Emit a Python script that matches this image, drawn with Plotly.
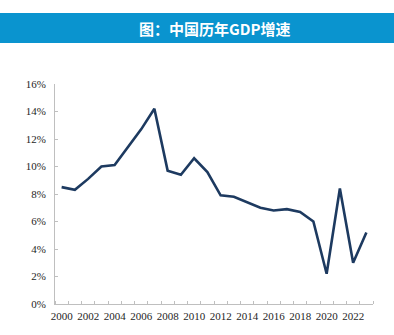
import plotly.graph_objects as go

years = list(range(2000, 2024))
gdp_growth = [8.5, 8.3, 9.1, 10.0, 10.1, 11.4, 12.7, 14.2, 9.7, 9.4, 10.6, 9.6,
              7.9, 7.8, 7.4, 7.0, 6.8, 6.9, 6.7, 6.0, 2.2, 8.4, 3.0, 5.2]
x_tick_years = list(range(2000, 2024, 2))
title_text = "图：中国历年GDP增速"

W, H = 394, 335
L, R, T, B = 55, 21, 84, 31
pw, ph = W - L - R, H - T - B

def px_x(p):
    return (p - L) / pw

def px_y(p):
    return 1 - (p - T) / ph

fig = go.Figure()
fig.add_trace(go.Scatter(
    x=years, y=gdp_growth, mode="lines",
    line=dict(color="#1d3a60", width=2.6),
    hoverinfo="skip", showlegend=False,
))

axis_color = "#bfbfbf"
tick_font = dict(family="Liberation Serif", size=11, color="#262626")

fig.update_layout(
    width=W, height=H,
    margin=dict(l=L, r=R, t=T, b=B),
    paper_bgcolor="white", plot_bgcolor="white",
    xaxis=dict(
        range=[1999.5, 2023.5],
        tickmode="array", tickvals=x_tick_years, ticktext=[str(y) for y in x_tick_years],
        ticks="", showgrid=False, zeroline=False,
        showline=True, linecolor=axis_color, linewidth=1,
        tickfont=tick_font, ticklabelstandoff=2,
        minor=dict(ticks="inside", tick0=1999.5, dtick=1, ticklen=3, tickcolor=axis_color, showgrid=False),
    ),
    yaxis=dict(
        range=[0, 16], tickmode="linear", tick0=0, dtick=2, ticksuffix="%",
        ticks="inside", ticklen=3, tickcolor=axis_color,
        showgrid=False, zeroline=False,
        showline=True, linecolor=axis_color, linewidth=1,
        tickfont=tick_font, ticklabelstandoff=6,
    ),
    shapes=[dict(
        type="rect", xref="paper", yref="paper",
        x0=px_x(0), x1=px_x(W), y0=px_y(43), y1=px_y(13),
        fillcolor="#0a94cf", line=dict(width=0), layer="above",
    )],
    annotations=[dict(
        text="<b>" + title_text + "</b>", xref="paper", yref="paper",
        x=px_x(214), y=px_y(28), xanchor="center", yanchor="middle",
        showarrow=False,
        font=dict(family="Noto Sans CJK SC", size=15, color="white"),
    )],
)

fig.write_html("out.html")
